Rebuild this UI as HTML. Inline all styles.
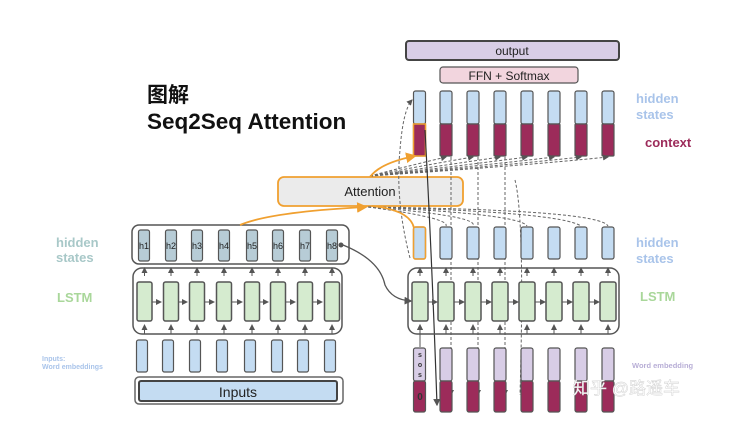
<!DOCTYPE html>
<html><head><meta charset="utf-8"><style>
html,body{margin:0;padding:0;background:#fff;}
svg{display:block;}
text{font-family:"Liberation Sans","Noto Sans CJK SC",sans-serif;}
</style></head><body>
<svg width="730" height="422" viewBox="0 0 730 422" xmlns="http://www.w3.org/2000/svg">
<defs>
<marker id="ar" markerWidth="6" markerHeight="6" refX="5" refY="3" orient="auto"><path d="M0,0 L6,3 L0,6 z" fill="#555"/></marker>
<marker id="ao" markerWidth="6" markerHeight="6" refX="5" refY="3" orient="auto"><path d="M0,0 L6,3 L0,6 z" fill="#f0a030"/></marker>
<g id="lcell"><rect x="0" y="0" width="15" height="39" rx="2" fill="#d5ebcf" stroke="#555" stroke-width="1.5"/></g>
<g id="rcell"><rect x="0" y="0" width="16" height="39" rx="2" fill="#d5ebcf" stroke="#555" stroke-width="1.5"/></g>
<g id="hcell"><rect x="-5.5" y="0" width="11" height="31" rx="2" fill="#b7ccd6" stroke="#555" stroke-width="1.2"/></g>
<g id="ecell"><rect x="-5.5" y="0" width="11" height="32" rx="2" fill="#c4dcf2" stroke="#555" stroke-width="1.2"/></g>
<g id="dtop"><rect x="-6" y="91" width="12" height="33" rx="2" fill="#c4dcf2" stroke="#555" stroke-width="1.2"/><rect x="-6" y="124" width="12" height="32" rx="1" fill="#9c2b5a" stroke="#555" stroke-width="1.2"/></g>
<g id="dh"><rect x="-6" y="227" width="12" height="32" rx="2" fill="#c4dcf2" stroke="#555" stroke-width="1.2"/></g>
<g id="db"><rect x="-6" y="348" width="12" height="33" rx="2" fill="#d8cde6" stroke="#555" stroke-width="1.2"/><rect x="-6" y="381" width="12" height="31" rx="2" fill="#9c2b5a" stroke="#555" stroke-width="1.2"/></g>
</defs>

<text x="147" y="102" font-size="21" font-weight="bold" fill="#111">图解</text>
<text x="147" y="129" font-size="22.5" font-weight="bold" fill="#111">Seq2Seq Attention</text>

<text x="56" y="247" font-size="13" font-weight="bold" fill="#a8c8c8">hidden</text>
<text x="56" y="262" font-size="13" font-weight="bold" fill="#a8c8c8">states</text>
<text x="57" y="302" font-size="13" font-weight="bold" fill="#a9d79a">LSTM</text>
<text x="42" y="361" font-size="7" font-weight="bold" fill="#a9c4ea">Inputs:</text>
<text x="42" y="369" font-size="7" font-weight="bold" fill="#a9c4ea">Word embeddings</text>

<text x="636" y="103" font-size="13" font-weight="bold" fill="#a9c4ea">hidden</text>
<text x="636" y="119" font-size="13" font-weight="bold" fill="#a9c4ea">states</text>
<text x="645" y="147" font-size="13" font-weight="bold" fill="#9c2b5a">context</text>
<text x="636" y="247" font-size="13" font-weight="bold" fill="#a9c4ea">hidden</text>
<text x="636" y="263" font-size="13" font-weight="bold" fill="#a9c4ea">states</text>
<text x="640" y="301" font-size="13" font-weight="bold" fill="#a9d79a">LSTM</text>
<text x="632" y="368" font-size="7.5" font-weight="bold" fill="#b8aed6">Word embedding</text>

<rect x="132" y="225" width="217" height="39" rx="7" fill="#fff" stroke="#555" stroke-width="1.5"/>
<g font-size="9" fill="#222" text-anchor="middle">
<use href="#hcell" x="144" y="230"/><text x="144" y="249">h1</text>
<use href="#hcell" x="171" y="230"/><text x="171" y="249">h2</text>
<use href="#hcell" x="197" y="230"/><text x="197" y="249">h3</text>
<use href="#hcell" x="224" y="230"/><text x="224" y="249">h4</text>
<use href="#hcell" x="252" y="230"/><text x="252" y="249">h5</text>
<use href="#hcell" x="278" y="230"/><text x="278" y="249">h6</text>
<use href="#hcell" x="305" y="230"/><text x="305" y="249">h7</text>
<use href="#hcell" x="332" y="230"/><text x="332" y="249">h8</text>
</g>
<circle cx="341" cy="245" r="2.5" fill="#555"/>
<rect x="133" y="268" width="209" height="66" rx="9" fill="#fff" stroke="#555" stroke-width="1.5"/>
<g stroke="#555" stroke-width="1" marker-end="url(#ar)">
<path d="M144.5 276 V268"/><path d="M144.5 334 V325"/>
<path d="M171 276 V268"/><path d="M171 334 V325"/>
<path d="M197 276 V268"/><path d="M197 334 V325"/>
<path d="M224 276 V268"/><path d="M224 334 V325"/>
<path d="M252 276 V268"/><path d="M252 334 V325"/>
<path d="M278 276 V268"/><path d="M278 334 V325"/>
<path d="M305 276 V268"/><path d="M305 334 V325"/>
<path d="M332 276 V268"/><path d="M332 334 V325"/>
<path d="M152 302 H161"/><path d="M179 302 H187"/><path d="M205 302 H214"/><path d="M232 302 H242"/><path d="M260 302 H268"/><path d="M286 302 H295"/><path d="M313 302 H322"/>
</g>
<use href="#lcell" x="137" y="282"/><use href="#lcell" x="163.5" y="282"/><use href="#lcell" x="189.5" y="282"/><use href="#lcell" x="216.5" y="282"/>
<use href="#lcell" x="244.5" y="282"/><use href="#lcell" x="270.5" y="282"/><use href="#lcell" x="297.5" y="282"/><use href="#lcell" x="324.5" y="282"/>
<use href="#ecell" x="142" y="340"/><use href="#ecell" x="168" y="340"/><use href="#ecell" x="195" y="340"/><use href="#ecell" x="222" y="340"/>
<use href="#ecell" x="250" y="340"/><use href="#ecell" x="277" y="340"/><use href="#ecell" x="303" y="340"/><use href="#ecell" x="330" y="340"/>
<rect x="135" y="377" width="208" height="27" rx="4" fill="#fff" stroke="#666" stroke-width="1.5"/>
<rect x="139" y="381" width="198" height="20" rx="2" fill="#c4dcf2" stroke="#444" stroke-width="2"/>
<text x="238" y="397" font-size="14" fill="#222" text-anchor="middle">Inputs</text>

<rect x="406" y="41" width="213" height="19" rx="3" fill="#d8cde6" stroke="#444" stroke-width="2"/>
<text x="512" y="55" font-size="12" fill="#222" text-anchor="middle">output</text>
<rect x="440" y="67" width="138" height="16" rx="3" fill="#f2d5de" stroke="#555" stroke-width="1.2"/>
<text x="509" y="80" font-size="12" fill="#222" text-anchor="middle">FFN + Softmax</text>
<use href="#dtop" x="419.5"/><use href="#dtop" x="446"/><use href="#dtop" x="473"/><use href="#dtop" x="500"/>
<use href="#dtop" x="527"/><use href="#dtop" x="554"/><use href="#dtop" x="581"/><use href="#dtop" x="608"/>
<rect x="413.5" y="124" width="12" height="32" fill="none" stroke="#f0a030" stroke-width="1.5"/>

<rect x="278" y="177" width="185" height="29" rx="6" fill="#ebebeb" stroke="#f0a030" stroke-width="1.8"/>
<text x="370" y="196" font-size="13" fill="#222" text-anchor="middle">Attention</text>

<g stroke="#666" stroke-width="1" stroke-dasharray="3,2" fill="none">
<path d="M370 176 Q400 168 446 157" marker-end="url(#ar)"/>
<path d="M370 176 Q420 166 473 157" marker-end="url(#ar)"/>
<path d="M370 176 Q440 166 500 157" marker-end="url(#ar)"/>
<path d="M370 176 Q460 166 527 157" marker-end="url(#ar)"/>
<path d="M370 176 Q480 166 554 157" marker-end="url(#ar)"/>
<path d="M370 176 Q500 166 581 157" marker-end="url(#ar)"/>
<path d="M370 176 Q520 166 608 157" marker-end="url(#ar)"/>
<path d="M368 207 Q450 218 446 226"/>
<path d="M368 207 Q480 216 473 226"/>
<path d="M368 207 Q520 214 527 226"/>
<path d="M368 207 Q560 212 581 226"/>
<path d="M368 207 Q600 210 608 226"/>
<path d="M410 258 Q395 200 400 150 Q403 110 412 100" marker-end="url(#ar)"/>
<path d="M451 157 V395" marker-end="url(#ar)"/>
<path d="M478 157 V395" marker-end="url(#ar)"/>
<path d="M505 157 V395" marker-end="url(#ar)"/>
<path d="M515 180 Q525 220 520 395"/>
</g>
<g stroke="#f0a030" stroke-width="1.8" fill="none">
<path d="M240 225 Q270 212 366 207" marker-end="url(#ao)"/>
<path d="M370 177 Q380 163 415 156" marker-end="url(#ao)"/>
<path d="M372 206 Q410 210 414 228"/>
</g>
<path d="M425 130 Q432 260 437 405" stroke="#333" stroke-width="1.2" fill="none" marker-end="url(#ar)"/>
<path d="M343 245 Q380 260 385 285 Q392 300 411 301" stroke="#555" stroke-width="1.3" fill="none" marker-end="url(#ar)"/>

<use href="#dh" x="419.5"/><use href="#dh" x="446"/><use href="#dh" x="473"/><use href="#dh" x="500"/>
<use href="#dh" x="527"/><use href="#dh" x="554"/><use href="#dh" x="581"/><use href="#dh" x="608"/>
<rect x="413.5" y="227" width="12" height="32" rx="2" fill="none" stroke="#f0a030" stroke-width="1.5"/>

<rect x="408" y="268" width="211" height="66" rx="9" fill="none" stroke="#555" stroke-width="1.5"/>
<g stroke="#555" stroke-width="1" marker-end="url(#ar)">
<path d="M420 276 V268"/><path d="M420 334 V325"/>
<path d="M446 276 V268"/><path d="M446 334 V325"/>
<path d="M473 276 V268"/><path d="M473 334 V325"/>
<path d="M500 276 V268"/><path d="M500 334 V325"/>
<path d="M527 276 V268"/><path d="M527 334 V325"/>
<path d="M554 276 V268"/><path d="M554 334 V325"/>
<path d="M581 276 V268"/><path d="M581 334 V325"/>
<path d="M608 276 V268"/><path d="M608 334 V325"/>
<path d="M420 347 V325"/>
<path d="M428 302 H437"/><path d="M454 302 H464"/><path d="M481 302 H491"/><path d="M508 302 H518"/><path d="M535 302 H545"/><path d="M562 302 H572"/><path d="M589 302 H599"/>
</g>
<use href="#rcell" x="412" y="282"/><use href="#rcell" x="438" y="282"/><use href="#rcell" x="465" y="282"/><use href="#rcell" x="492" y="282"/>
<use href="#rcell" x="519" y="282"/><use href="#rcell" x="546" y="282"/><use href="#rcell" x="573" y="282"/><use href="#rcell" x="600" y="282"/>

<use href="#db" x="419.5"/><use href="#db" x="446"/><use href="#db" x="473"/><use href="#db" x="500"/>
<use href="#db" x="527"/><use href="#db" x="554"/><use href="#db" x="581"/><use href="#db" x="608"/>
<g font-size="7" font-weight="bold" fill="#333" text-anchor="middle"><text x="420" y="357">s</text><text x="420" y="367">o</text><text x="420" y="377">s</text></g>
<text x="420" y="400" font-size="10" font-weight="bold" fill="#333" text-anchor="middle">0</text>

<text x="573" y="394" font-size="17" fill="#fff" stroke="#ccc" stroke-width="0.4">知乎 @路遥车</text>
</svg>
</body></html>
